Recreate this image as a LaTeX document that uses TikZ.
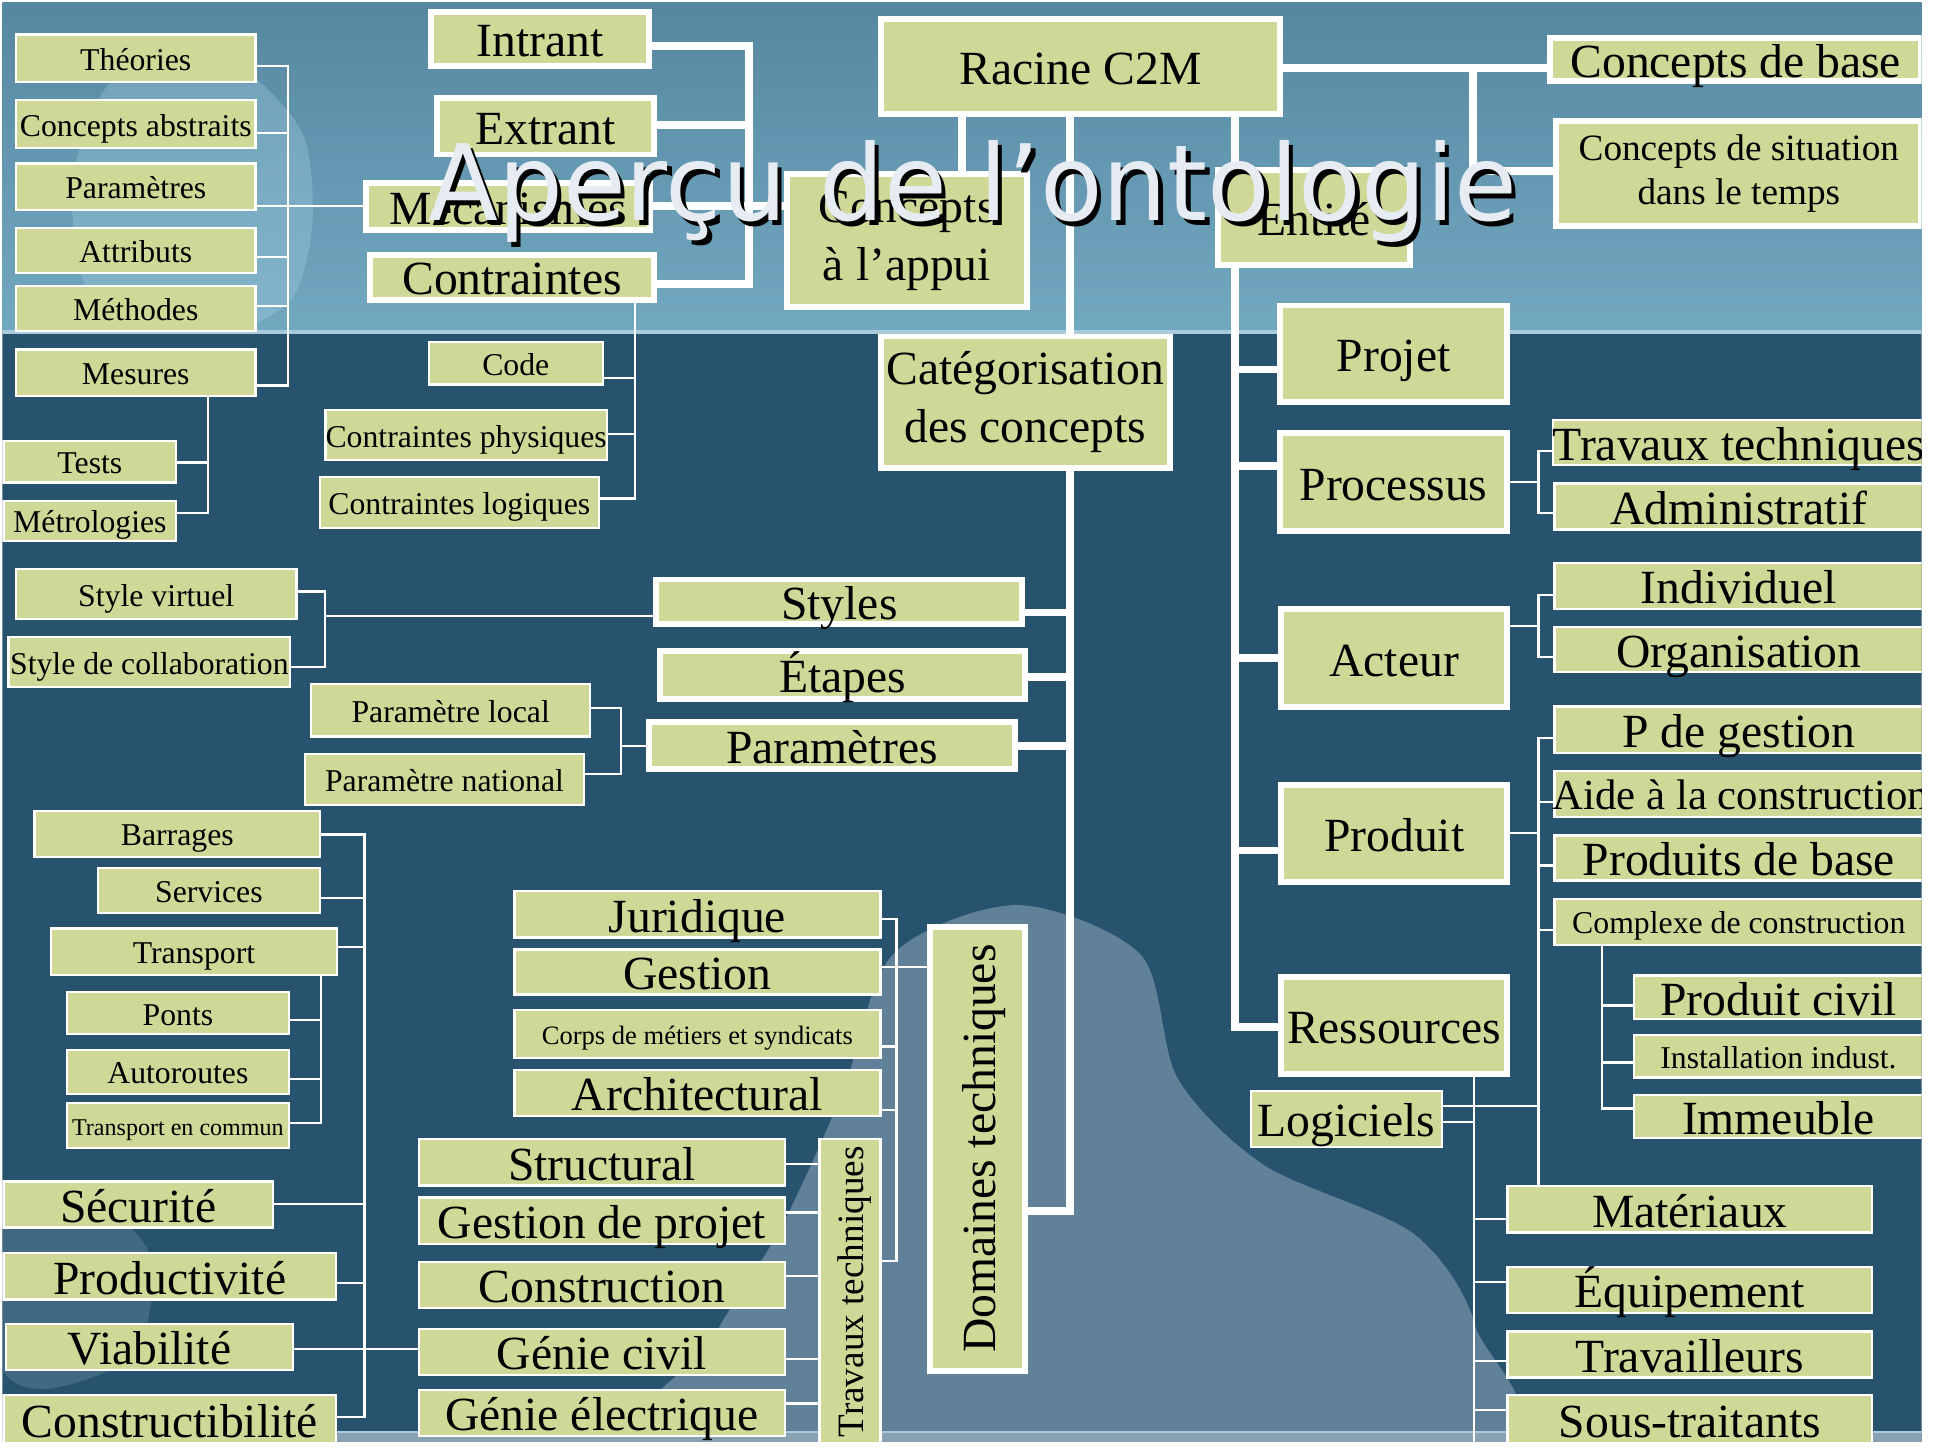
\documentclass[tikz,border=0pt]{standalone}
\usepackage{fontspec}
\setmainfont{Liberation Serif}
\newfontfamily\titlefont{DejaVu Sans}
\definecolor{boxc}{HTML}{CFD897}
\definecolor{skytop}{HTML}{5687A1}
\definecolor{skybot}{HTML}{73A8C1}
\definecolor{deep}{HTML}{28536E}
\definecolor{mist}{HTML}{6A8AA0}
\definecolor{bandc}{HTML}{A9CBDB}
\definecolor{titlec}{HTML}{E6ECF2}
\definecolor{puzz}{HTML}{A8D6E6}

% box with thick white frame: style, name, x1, y1, x2, y2, text
\newcommand{\boxF}[7]{\node[bigframe,#1,minimum width={(#5-#3-4.8)*0.5pt},minimum height={(#6-#4-4.8)*0.5pt}] (#2) at ({(#3+#5)/2},{(#4+#6)/2}) {#7};}
% box with thin white border
\newcommand{\boxL}[7]{\node[leafbox,#1,minimum width={(#5-#3-1.8)*0.5pt},minimum height={(#6-#4-1.8)*0.5pt}] (#2) at ({(#3+#5)/2},{(#4+#6)/2}) {#7};}
% upright box with text reading upwards: style, name, x1, y1, x2, y2, text, inset
\newcommand{\boxRot}[8]{\node[#1,rotate=90,minimum width={(#6-#4-#8)*0.5pt},minimum height={(#5-#3-#8)*0.5pt}] (#2) at ({(#3+#5)/2},{(#4+#6)/2}) {#7};}

\tikzset{
  bigframe/.style={draw=white, line width=2.4pt, fill=boxc, inner sep=0pt},
  leafbox/.style={draw=white, line width=0.9pt, fill=boxc, inner sep=0pt},
  fbig/.style={font=\fontsize{19.2}{23}\selectfont, text height=15pt, text depth=0.6pt},
  fbigtwo/.style={font=\fontsize{19.2}{23.5}\selectfont, align=center, yshift=-2.5pt},
  fmed/.style={font=\fontsize{15}{18}\selectfont, text height=11.8pt, text depth=0.5pt},
  fmedtwo/.style={font=\fontsize{15}{18}\selectfont, align=center, yshift=-2.5pt},
  fsm/.style={font=\fontsize{12.8}{15}\selectfont, text height=10.2pt, text depth=0.4pt},
  fcorps/.style={font=\fontsize{10.7}{13}\selectfont, text height=8.6pt, text depth=0.3pt},
  ftc/.style={font=\fontsize{9.7}{12}\selectfont, text height=7.8pt, text depth=0.3pt},
  thickc/.style={draw=white, line width=3.2pt},
  thinc/.style={draw=white, line width=0.9pt},
}

\begin{document}
\begin{tikzpicture}[x=0.5pt,y=-0.5pt]
\useasboundingbox (0,0) rectangle (1568,1168);
\fill[white] (0,0) rectangle (1568,1168);

\begin{scope}
\clip (2,2) rectangle (1550,1163);

% ---------- backdrop ----------
\shade[top color=skytop, bottom color=skybot] (0,0) rectangle (1568,268);
\fill[puzz, opacity=0.3] plot[smooth cycle] coordinates {(95,60) (150,28) (205,62) (245,110) (252,180) (236,240) (190,266) (120,266) (70,232) (58,160) (70,100)};
\fill[deep] (0,268) rectangle (1568,1168);
\fill[mist, opacity=0.85] plot[smooth cycle] coordinates {(720,770) (820,730) (920,770) (950,870) (1020,940) (1140,995) (1190,1070) (1185,1175) (540,1175) (575,1080) (630,990) (680,880)};
\fill[mist, opacity=0.4] plot[smooth cycle] coordinates {(0,990) (60,960) (120,1010) (110,1090) (40,1120) (0,1100)};
\draw[bandc, line width=1.5pt] (0,268) -- (1568,268);
\fill[mist!80!white] (0,1155) rectangle (1568,1168);
\draw[bandc, line width=0.8pt] (0,1155) -- (1568,1155);

% ---------- upper left group ----------
\boxL{fsm}{theo}{12}{27}{207}{67}{Théories}
\boxL{fsm}{cabs}{12}{80}{207}{120}{Concepts abstraits}
\boxL{fsm}{lpar}{12}{131}{207}{170}{Paramètres}
\boxL{fsm}{attr}{12}{183}{207}{221}{Attributs}
\boxL{fsm}{meth}{12}{230}{207}{268}{Méthodes}
\boxL{fsm}{mesu}{12}{281}{207}{320}{Mesures}
\boxL{fsm}{tests}{2}{355}{143}{390}{Tests}
\boxL{fsm}{metro}{2}{403}{143}{437}{Métrologies}

\boxF{fbig}{intr}{345}{7}{526}{56}{Intrant}
\boxF{fbig}{extr}{350}{77}{530}{127}{Extrant}
\boxF{fbig}{meca}{293}{145}{527}{188}{Mécanismes}
\boxF{fbig}{contr}{296}{203}{530}{244}{Contraintes}
\boxL{fsm}{code}{345}{275}{487}{311}{Code}
\boxL{fsm}{cphy}{262}{330}{490}{372}{Contraintes physiques}
\boxL{fsm}{clog}{257}{384}{484}{427}{Contraintes logiques}

% ---------- top centre ----------
\boxF{fbig}{racine}{708}{13}{1035}{94}{Racine C2M}
\boxF{fbig}{cbase}{1248}{28}{1552}{68}{Concepts de base}
\boxF{fmedtwo}{csit}{1253}{90}{1552}{180}{Concepts de situation\\dans le temps}
\boxF{fbigtwo}{appui}{632}{133}{831}{245}{Concepts\\à l’appui}
\boxF{fbig}{entite}{980}{135}{1140}{216}{Entité}
\boxF{fbigtwo}{categ}{708}{264}{946}{375}{Catégorisation\\des concepts}

% ---------- categorisation branch ----------
\boxF{fbig}{styles}{527}{465}{827}{506}{Styles}
\boxF{fbig}{etapes}{530}{523}{829}{566}{Étapes}
\boxF{fbig}{params}{521}{580}{821}{623}{Paramètres}
\boxRot{bigframe,fbig}{domaines}{748}{745}{829}{1108}{Domaines techniques}{4.8}

\boxL{fsm}{svirt}{12}{458}{240}{500}{Style virtuel}
\boxL{fsm}{scol}{6}{513}{235}{555}{Style de collaboration}
\boxL{fsm}{ploc}{250}{551}{477}{595}{Paramètre local}
\boxL{fsm}{pnat}{245}{607}{472}{650}{Paramètre national}

\boxL{fsm}{barr}{27}{653}{259}{692}{Barrages}
\boxL{fsm}{serv}{78}{699}{259}{737}{Services}
\boxL{fsm}{transp}{40}{748}{273}{787}{Transport}
\boxL{fsm}{ponts}{53}{799}{234}{835}{Ponts}
\boxL{fsm}{autor}{53}{846}{234}{883}{Autoroutes}
\boxL{ftc}{tcom}{53}{889}{234}{927}{Transport en commun}
\boxL{fbig}{secu}{2}{952}{221}{991}{Sécurité}
\boxL{fbig}{prod}{2}{1010}{272}{1049}{Productivité}
\boxL{fbig}{viab}{4}{1067}{237}{1106}{Viabilité}
\boxL{fbig}{cstb}{2}{1124}{272}{1166}{Constructibilité}

\boxL{fbig}{juri}{414}{718}{711}{757}{Juridique}
\boxL{fbig}{gest}{414}{765}{711}{803}{Gestion}
\boxL{fcorps}{corps}{414}{814}{711}{854}{Corps de métiers et syndicats}
\boxL{fbig}{archi}{414}{862}{711}{901}{Architectural}
\boxL{fbig}{struc}{337}{918}{634}{957}{Structural}
\boxL{fbig}{gproj}{337}{965}{634}{1004}{Gestion de projet}
\boxL{fbig}{constr}{337}{1017}{634}{1056}{Construction}
\boxL{fbig}{gciv}{337}{1071}{634}{1110}{Génie civil}
\boxL{fbig}{gelec}{337}{1120}{634}{1159}{Génie électrique}
\boxRot{leafbox,fmed}{ttech}{660}{918}{711}{1166}{Travaux techniques}{1.8}

% ---------- entity branch ----------
\boxF{fbig}{projet}{1030}{244}{1218}{327}{Projet}
\boxF{fbig}{proc}{1030}{347}{1218}{431}{Processus}
\boxF{fbig}{acteur}{1031}{489}{1218}{573}{Acteur}
\boxF{fbig}{produit}{1031}{631}{1218}{714}{Produit}
\boxF{fbig}{ressou}{1031}{786}{1218}{869}{Ressources}

\boxL{fbig}{travt}{1253}{338}{1552}{376}{Travaux techniques}
\boxL{fbig}{admin}{1253}{389}{1552}{428}{Administratif}
\boxL{fbig}{indiv}{1253}{453}{1552}{492}{Individuel}
\boxL{fbig}{orga}{1253}{505}{1552}{543}{Organisation}
\boxL{fbig}{pgest}{1253}{569}{1552}{608}{P de gestion}
\boxL{}{aide}{1253}{621}{1552}{660}{}
\node[anchor=base west, font=\fontsize{17.25}{20}\selectfont, inner sep=0pt] (aidetxt) at (1252,653) {Aide à la construction};
\boxL{fbig}{pbase}{1253}{673}{1552}{711}{Produits de base}
\boxL{fsm}{cplx}{1253}{724}{1552}{763}{Complexe de construction}
\boxL{fbig}{pciv}{1317}{786}{1552}{823}{Produit civil}
\boxL{fsm}{inst}{1317}{834}{1552}{870}{Installation indust.}
\boxL{fbig}{immeu}{1317}{882}{1552}{919}{Immeuble}
\boxL{fbig}{logi}{1008}{879}{1164}{926}{Logiciels}
\boxL{fbig}{mate}{1215}{956}{1511}{995}{Matériaux}
\boxL{fbig}{equip}{1215}{1021}{1511}{1060}{Équipement}
\boxL{fbig}{travl}{1215}{1073}{1511}{1112}{Travailleurs}
\boxL{fbig}{sous}{1215}{1124}{1511}{1166}{Sous-traitants}

% ---------- connectors ----------
% bus columns
\coordinate (bL) at (232,0);
\coordinate (bM) at (168,0);
\coordinate (bI) at (604,0);
\coordinate (bC) at (512,0);
\coordinate (bK) at (863,0);
\coordinate (bE) at (996,0);
\coordinate (bR) at (1188,0);
\coordinate (bS) at (262,0);
\coordinate (bP) at (501,0);
\coordinate (bB) at (294,0);
\coordinate (bT) at (259,0);
\coordinate (bD) at (723,0);
\coordinate (bQ) at (1241,0);
\coordinate (bX) at (1292,0);
\coordinate (bY) at (1189,0);

% theories group
\draw[thinc] (theo.east |- 0,53) -| (bL |- 0,311) -- (mesu.east |- 0,311);
\draw[thinc] (cabs.east |- 0,107) -- (bL |- 0,107);
\draw[thinc] (lpar.east |- 0,166) -- (meca.west |- 0,166);
\draw[thinc] (attr.east |- 0,207) -- (bL |- 0,207);
\draw[thinc] (meth.east |- 0,247) -- (bL |- 0,247);
\draw[thinc] (bM |- mesu.south) -- (bM |- 0,414) -- (metro.east |- 0,414);
\draw[thinc] (tests.east |- 0,373) -- (bM |- 0,373);

% mechanisms group
\draw[thickc] (intr.east |- 0,37) -| (bI |- 0,229) -- (contr.east |- 0,229);
\draw[thickc] (extr.east |- 0,101) -- (bI |- 0,101);
\draw[thickc] (meca.east |- 0,166) -- (appui.west |- 0,166);
\draw[thinc] (bC |- contr.south) -- (bC |- 0,402) -- (clog.east |- 0,402);
\draw[thinc] (code.east |- 0,305) -- (bC |- 0,305);
\draw[thinc] (cphy.east |- 0,350) -- (bC |- 0,350);

% root links
\draw[thickc] (racine.south -| 776,0) -- (appui.north -| 776,0);
\draw[thickc] (bK |- racine.south) -- (bK |- categ.north);
\draw[thickc] (bE |- racine.south) -- (bE |- entite.north);
\draw[thickc] (racine.east |- 0,55) -- (cbase.west |- 0,55);
\draw[thickc] (bR |- 0,55) -- (bR |- 0,138) -- (csit.west |- 0,138);

% categorisation links
\draw[thickc] (bK |- categ.south) -- (bK |- 0,977) -- (domaines.south |- 0,977);
\draw[thickc] (styles.east |- 0,494) -- (bK |- 0,494);
\draw[thickc] (etapes.east |- 0,546) -- (bK |- 0,546);
\draw[thickc] (params.east |- 0,602) -- (bK |- 0,602);

\draw[thinc] (styles.west |- 0,497) -- (bS |- 0,497);
\draw[thinc] (svirt.east |- 0,477) -| (bS |- 0,538) -- (scol.east |- 0,538);
\draw[thinc] (params.west |- 0,602) -- (bP |- 0,602);
\draw[thinc] (ploc.east |- 0,571) -| (bP |- 0,624) -- (pnat.east |- 0,624);

% qualities and infrastructures
\draw[thinc] (barr.east |- 0,673) -| (bB |- 0,1143) -- (cstb.east |- 0,1143);
\draw[thinc] (serv.east |- 0,724) -- (bB |- 0,724);
\draw[thinc] (transp.east |- 0,764) -- (bB |- 0,764);
\draw[thinc] (secu.east |- 0,971) -- (bB |- 0,971);
\draw[thinc] (prod.east |- 0,1035) -- (bB |- 0,1035);
\draw[thinc] (viab.east |- 0,1088) -- (gciv.west |- 0,1088);
\draw[thinc] (bT |- transp.south) -- (bT |- 0,906) -- (tcom.east |- 0,906);
\draw[thinc] (ponts.east |- 0,823) -- (bT |- 0,823);
\draw[thinc] (autor.east |- 0,870) -- (bT |- 0,870);

% technical domains
\draw[thinc] (juri.east |- 0,741) -| (bD |- 0,1017) -- (ttech.south |- 0,1017);
\draw[thinc] (gest.east |- 0,780) -- (domaines.north |- 0,780);
\draw[thinc] (corps.east |- 0,844) -- (bD |- 0,844);
\draw[thinc] (archi.east |- 0,895) -- (bD |- 0,895);
\draw[thinc] (struc.east |- 0,939) -- (ttech.north |- 0,939);
\draw[thinc] (gproj.east |- 0,978) -- (ttech.north |- 0,978);
\draw[thinc] (constr.east |- 0,1029) -- (ttech.north |- 0,1029);
\draw[thinc] (gciv.east |- 0,1096) -- (ttech.north |- 0,1096);
\draw[thinc] (gelec.east |- 0,1132) -- (ttech.north |- 0,1132);

% entity links
\draw[thickc] (bE |- entite.south) -- (bE |- 0,828) -- (ressou.west |- 0,828);
\draw[thickc] (bE |- 0,298) -- (projet.west |- 0,298);
\draw[thickc] (bE |- 0,376) -- (proc.west |- 0,376);
\draw[thickc] (bE |- 0,531) -- (acteur.west |- 0,531);
\draw[thickc] (bE |- 0,686) -- (produit.west |- 0,686);

\draw[thinc] (proc.east |- 0,389) -- (bQ |- 0,389);
\draw[thinc] (travt.west |- 0,364) -| (bQ |- 0,414) -- (admin.west |- 0,414);
\draw[thinc] (acteur.east |- 0,505) -- (bQ |- 0,505);
\draw[thinc] (indiv.west |- 0,480) -| (bQ |- 0,530) -- (orga.west |- 0,530);
\draw[thinc] (produit.east |- 0,672) -- (bQ |- 0,672);
\draw[thinc] (pgest.west |- 0,595) -| (bQ |- mate.north);
\draw[thinc] (aide.west |- 0,647) -- (bQ |- 0,647);
\draw[thinc] (pbase.west |- 0,698) -- (bQ |- 0,698);
\draw[thinc] (cplx.west |- 0,750) -- (bQ |- 0,750);
\draw[thinc] (logi.east |- 0,892) -- (bQ |- 0,892);
\draw[thinc] (bX |- cplx.south) -- (bX |- 0,894) -- (immeu.west |- 0,894);
\draw[thinc] (pciv.west |- 0,811) -- (bX |- 0,811);
\draw[thinc] (inst.west |- 0,857) -- (bX |- 0,857);
\draw[thinc] (bY |- ressou.south) -- (bY |- 0,1170);
\draw[thinc] (logi.east |- 0,905) -- (bY |- 0,905);
\draw[thinc] (mate.west |- 0,983) -- (bY |- 0,983);
\draw[thinc] (equip.west |- 0,1034) -- (bY |- 0,1034);
\draw[thinc] (travl.west |- 0,1098) -- (bY |- 0,1098);
\draw[thinc] (sous.west |- 0,1137) -- (bY |- 0,1137);

% ---------- title ----------
\node[anchor=base west, inner sep=0pt, font=\titlefont\fontsize{42.5}{50}\selectfont, text=black, xscale=0.97] (titleshadow) at (348.5,181.5) {Aperçu de l’ontologie};
\node[anchor=base west, inner sep=0pt, font=\titlefont\fontsize{42.5}{50}\selectfont, text=titlec, xscale=0.97] (title) at (345,178) {Aperçu de l’ontologie};
\end{scope}
\end{tikzpicture}
\end{document}
